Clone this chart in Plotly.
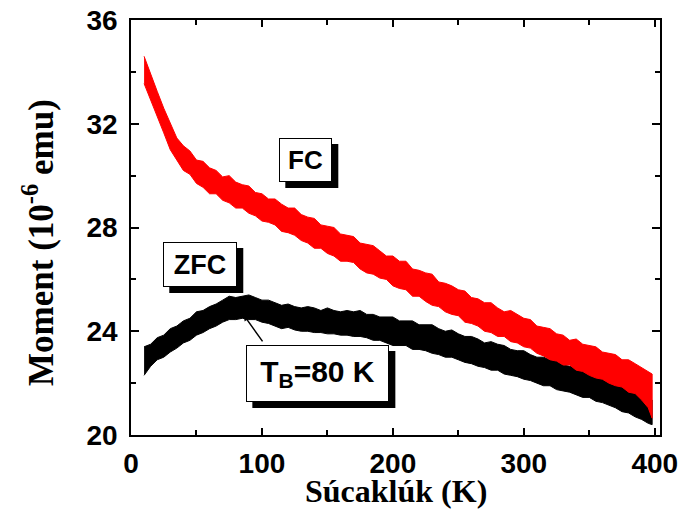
import plotly.graph_objects as go

temperature_K = [10, 15, 20, 25, 30, 35, 40, 45, 50, 55, 60, 65, 70, 75, 80, 85, 90, 95,
                 100, 105, 110, 115, 120, 125, 130, 135, 140, 145, 150, 155, 160, 165, 170,
                 175, 180, 185, 190, 195, 200, 205, 210, 215, 220, 225, 230, 235, 240, 245,
                 250, 255, 260, 265, 270, 275, 280, 285, 290, 295, 300, 305, 310, 315, 320,
                 325, 330, 335, 340, 345, 350, 355, 360, 365, 370, 375, 380, 385, 390, 395, 398]

# FC (field cooled) noisy band: upper / lower extent, 10^-6 emu
fc_upper = [34.6, 33.9, 33.25, 32.6, 32.0, 31.45, 31.15, 30.95, 30.6, 30.55, 30.3, 30.2,
            29.95, 30.0, 29.75, 29.65, 29.6, 29.35, 29.3, 29.1, 29.1, 28.9, 28.75, 28.75,
            28.5, 28.4, 28.35, 28.1, 28.05, 28.0, 27.75, 27.7, 27.65, 27.4, 27.35, 27.3,
            27.1, 26.9, 26.9, 26.7, 26.7, 26.4, 26.35, 26.25, 26.2, 25.9, 25.85, 25.75,
            25.6, 25.55, 25.3, 25.25, 25.1, 25.1, 24.9, 24.75, 24.8, 24.65, 24.5, 24.45,
            24.2, 24.15, 24.1, 23.9, 23.85, 23.65, 23.7, 23.5, 23.45, 23.4, 23.2, 23.15,
            23.1, 22.9, 22.9, 22.75, 22.6, 22.45, 22.35]
fc_lower = [33.55, 32.9, 32.3, 31.65, 31.0, 30.6, 30.2, 30.05, 29.7, 29.55, 29.3, 29.3,
            29.05, 28.95, 28.75, 28.75, 28.55, 28.45, 28.25, 28.2, 28.1, 27.85, 27.8, 27.7,
            27.5, 27.4, 27.2, 27.2, 27.0, 26.9, 26.7, 26.7, 26.65, 26.4, 26.25, 26.2, 26.05,
            26.0, 25.75, 25.65, 25.6, 25.35, 25.35, 25.15, 25.0, 24.95, 24.75, 24.65, 24.6,
            24.35, 24.3, 24.2, 24.0, 23.95, 23.8, 23.8, 23.6, 23.55, 23.4, 23.35, 23.15,
            23.05, 22.9, 22.85, 22.7, 22.7, 22.5, 22.45, 22.3, 22.2, 22.15, 22.0, 21.9,
            21.85, 21.65, 21.6, 21.35, 21.05, 20.65]

# ZFC (zero field cooled) noisy band: upper / lower extent, 10^-6 emu
zfc_upper = [23.4, 23.5, 23.75, 23.85, 24.1, 24.2, 24.4, 24.5, 24.75, 24.8, 24.95, 25.05,
             25.2, 25.35, 25.3, 25.35, 25.4, 25.3, 25.2, 25.2, 25.1, 25.0, 25.05, 24.95,
             24.9, 24.95, 24.9, 24.8, 24.9, 24.8, 24.75, 24.8, 24.75, 24.8, 24.65, 24.65,
             24.55, 24.55, 24.55, 24.4, 24.4, 24.4, 24.25, 24.25, 24.25, 24.1, 24.0, 24.05,
             23.9, 23.8, 23.8, 23.7, 23.55, 23.6, 23.5, 23.45, 23.3, 23.25, 23.25, 23.1,
             23.0, 23.0, 22.9, 22.85, 22.7, 22.65, 22.65, 22.5, 22.45, 22.4, 22.25, 22.2,
             22.05, 21.95, 21.9, 21.7, 21.65, 21.45, 21.35]
zfc_lower = [22.3, 22.65, 22.9, 23.0, 23.2, 23.35, 23.55, 23.65, 23.85, 23.95, 24.1, 24.2,
             24.35, 24.45, 24.45, 24.5, 24.45, 24.45, 24.35, 24.3, 24.2, 24.1, 24.15, 24.05,
             24.0, 24.0, 23.95, 23.95, 23.9, 23.9, 23.85, 23.85, 23.8, 23.8, 23.75, 23.65,
             23.65, 23.55, 23.45, 23.45, 23.45, 23.3, 23.3, 23.25, 23.15, 23.1, 23.0, 23.0,
             22.9, 22.8, 22.75, 22.65, 22.6, 22.5, 22.5, 22.35, 22.3, 22.25, 22.15, 22.1,
             22.0, 21.9, 21.9, 21.75, 21.7, 21.65, 21.55, 21.45, 21.45, 21.3, 21.25, 21.15,
             21.05, 20.9, 20.85, 20.7, 20.6, 20.45, 20.4]

x_ticks = [0, 100, 200, 300, 400]
x_minor = [50, 150, 250, 350]
y_ticks = [20, 24, 28, 32, 36]
y_minor = [22, 26, 30, 34]

# Blocking temperature marker (arrow tip on the ZFC maximum)
tb_T = 86
tb_moment = 24.63


def band(x, lo, hi, color, name):
    xs = list(x) + list(x)[::-1]
    ys = list(hi) + list(lo)[::-1]
    return go.Scatter(x=xs, y=ys, mode="lines", fill="toself", fillcolor=color,
                      line=dict(color=color, width=1), name=name, hoverinfo="skip")


fig = go.Figure()
fig.add_trace(band(temperature_K, zfc_lower, zfc_upper, "#000000", "ZFC"))
fig.add_trace(band(temperature_K, fc_lower, fc_upper, "#ff0000", "FC"))

sans = "Liberation Sans, Arial, sans-serif"
serif = "Liberation Serif, Times New Roman, serif"
tick_font = dict(family=sans, size=28, color="black", weight="bold")
title_font = dict(family=serif, size=32, color="black", weight="bold")

axis_common = dict(showline=True, linewidth=1.5, linecolor="black", mirror="ticks",
                   ticks="inside", tickwidth=1.5, tickcolor="black", showgrid=False,
                   zeroline=False, tickfont=tick_font, automargin=False)

fig.update_xaxes(range=[0, 404], tickvals=x_ticks, ticklen=7,
                 minor=dict(tickvals=x_minor, ticks="inside", ticklen=5,
                            tickwidth=1.5, tickcolor="black"),
                 ticklabelstandoff=3, **axis_common)
fig.update_yaxes(range=[20, 36], tickvals=y_ticks, ticklen=8,
                 minor=dict(tickvals=y_minor, ticks="inside", ticklen=5,
                            tickwidth=1.5, tickcolor="black"),
                 ticklabelstandoff=6, **axis_common)

# axis titles
fig.add_annotation(xref="paper", yref="paper", x=0.5, y=-0.135, text="Súcaklúk (K)",
                   showarrow=False, font=title_font, xanchor="center", yanchor="middle")
fig.add_annotation(xref="paper", yref="paper", x=-0.176, y=0.465,
                   text="Moment (10<sup>-6</sup> emu)", textangle=-90,
                   showarrow=False, font=dict(family=serif, size=35, color="black", weight="bold"),
                   xanchor="center", yanchor="middle")


def boxed(text, x, y, w, h, size):
    # drop shadow: solid black rectangle offset 6 px right / 6 px down
    fig.add_shape(type="rect", xref="x", yref="y", xsizemode="pixel", ysizemode="pixel",
                  xanchor=x, yanchor=y, x0=-w / 2 - 1 + 6, x1=w / 2 + 1 + 6,
                  y0=-h / 2 - 1 - 6, y1=h / 2 + 1 - 6,
                  fillcolor="black", line=dict(color="black", width=0), layer="above")
    f = dict(family=sans, size=size, color="black", weight="bold")
    fig.add_annotation(x=x, y=y, text=text, showarrow=False, width=w, height=h,
                       bgcolor="white", bordercolor="black", borderwidth=1, borderpad=0,
                       font=f, xanchor="center", yanchor="middle")


# arrow from T_B box to the ZFC maximum
fig.add_annotation(x=tb_T, y=tb_moment, text="", showarrow=True, ax=20, ay=28,
                   arrowhead=2, arrowsize=0.8, arrowwidth=1.5, arrowcolor="black")

boxed("FC", 133.5, 30.6, 51, 42, 26)
boxed("ZFC", 52.9, 26.57, 72, 43, 27)
boxed("T<sub>B</sub>=80 K", 142.7, 22.37, 141, 55, 30)

fig.update_layout(width=683, height=517, margin=dict(l=131, r=23, t=20, b=82),
                  plot_bgcolor="white", paper_bgcolor="white", showlegend=False)

fig.write_html("out.html", config={"displayModeBar": False},
               post_script="document.body.style.margin='0';document.body.style.overflow='hidden';")
